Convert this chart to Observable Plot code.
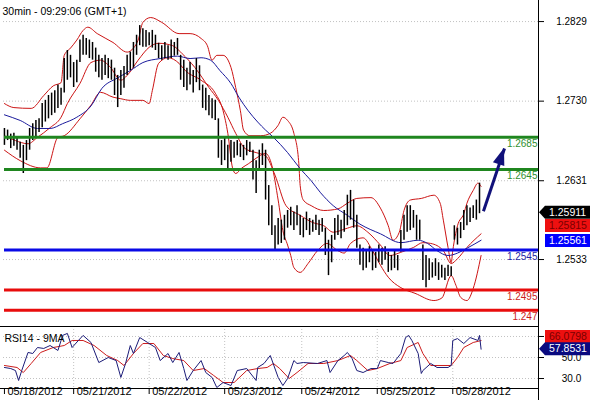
<!DOCTYPE html>
<html><head><meta charset="utf-8">
<script src="https://cdn.jsdelivr.net/npm/d3@7"></script>
<script src="https://cdn.jsdelivr.net/npm/@observablehq/plot@0.6"></script>
<style>
body{margin:0;background:#fff;}
#wrap{position:relative;width:590px;height:400px;overflow:hidden;background:#fff;}
#wrap svg{position:absolute;left:0;overflow:visible;}
</style></head><body><div id="wrap"></div>
<script>
// ---------- data ----------
const title = "30min - 09:29:06 (GMT+1)";
const barStep = 2; // each entry spans two 30-min bars
const barHigh = [1.2696,1.2694,1.2689,1.2690,1.2685,1.2679,1.2675,1.2681,1.2696,1.2702,
1.2706,1.2708,1.2727,1.2731,1.2737,1.2740,1.2743,1.2750,1.2746,1.2783,
1.2793,1.2787,1.2778,1.2781,1.2806,1.2812,1.2808,1.2806,1.2803,1.2796,
1.2787,1.2783,1.2787,1.2783,1.2781,1.2771,1.2762,1.2768,1.2773,1.2787,
1.2791,1.2803,1.2812,1.2824,1.2820,1.2818,1.2815,1.2818,1.2812,1.2802,
1.2799,1.2803,1.2799,1.2806,1.2803,1.2808,1.2787,1.2781,1.2771,1.2778,
1.2768,1.2783,1.2774,1.2750,1.2746,1.2737,1.2733,1.2731,1.2708,1.2681,
1.2684,1.2675,1.2681,1.2679,1.2681,1.2677,1.2675,1.2681,1.2679,1.2669,
1.2656,1.2669,1.2677,1.2669,1.2625,1.2600,1.2575,1.2584,1.2582,1.2588,
1.2594,1.2598,1.2592,1.2600,1.2588,1.2584,1.2592,1.2584,1.2582,1.2588,
1.2582,1.2584,1.2572,1.2557,1.2563,1.2584,1.2588,1.2582,1.2594,1.2613,
1.2619,1.2607,1.2588,1.2551,1.2547,1.2544,1.2549,1.2544,1.2542,1.2551,
1.2547,1.2549,1.2542,1.2538,1.2544,1.2538,1.2569,1.2588,1.2600,1.2600,
1.2594,1.2588,1.2582,1.2551,1.2538,1.2534,1.2529,1.2534,1.2529,1.2526,
1.2522,1.2526,1.2524,1.2575,1.2572,1.2579,1.2594,1.2600,1.2597,1.2600,
1.2607,1.2628];
const barLow = [1.2675,1.2681,1.2671,1.2674,1.2669,1.2659,1.2640,1.2656,1.2669,1.2681,
1.2685,1.2691,1.2697,1.2704,1.2708,1.2712,1.2715,1.2721,1.2725,1.2740,
1.2756,1.2759,1.2747,1.2753,1.2778,1.2787,1.2787,1.2783,1.2781,1.2766,
1.2759,1.2756,1.2762,1.2758,1.2756,1.2737,1.2722,1.2737,1.2746,1.2762,
1.2768,1.2771,1.2787,1.2799,1.2797,1.2797,1.2799,1.2796,1.2793,1.2783,
1.2781,1.2783,1.2781,1.2783,1.2786,1.2787,1.2756,1.2747,1.2743,1.2750,
1.2740,1.2753,1.2743,1.2721,1.2718,1.2712,1.2708,1.2706,1.2659,1.2650,
1.2656,1.2646,1.2654,1.2659,1.2662,1.2660,1.2656,1.2662,1.2666,1.2632,
1.2615,1.2644,1.2650,1.2607,1.2575,1.2563,1.2544,1.2551,1.2553,1.2557,
1.2572,1.2575,1.2569,1.2575,1.2563,1.2560,1.2569,1.2563,1.2567,1.2569,
1.2563,1.2567,1.2538,1.2513,1.2529,1.2557,1.2563,1.2559,1.2567,1.2575,
1.2582,1.2572,1.2547,1.2526,1.2519,1.2522,1.2529,1.2519,1.2522,1.2529,
1.2526,1.2532,1.2517,1.2519,1.2522,1.2519,1.2542,1.2557,1.2567,1.2569,
1.2572,1.2557,1.2557,1.2507,1.2498,1.2507,1.2510,1.2512,1.2507,1.2510,
1.2507,1.2512,1.2512,1.2557,1.2551,1.2559,1.2569,1.2575,1.2579,1.2584,
1.2582,1.2590];

const bbUpper = [[0,1.2727],[6,1.2722],[17,1.2721],[25,1.2737],[31,1.2749],[36,1.2753],[38,1.2787],[42,1.2796],[46,1.2806],[50,1.2818],[53,1.2822],[59,1.2814],[69,1.2803],[78,1.2791],[82,1.2796],[85,1.2806],[88,1.2828],[93,1.2834],[100,1.2828],[111,1.2814],[118,1.2814],[125,1.2808],[129,1.2799],[132,1.2781],[135,1.2787],[139,1.2787],[144,1.2772],[147,1.2747],[150,1.2718],[152,1.2694],[156,1.2687],[163,1.2687],[169,1.2690],[174,1.2700],[177,1.2710],[180,1.2706],[184,1.2690],[187,1.2656],[188,1.2625],[190,1.2607],[195,1.2600],[203,1.2594],[212,1.2596],[218,1.2603],[224,1.2609],[233,1.2610],[239,1.2597],[244,1.2575],[247,1.2557],[251,1.2567],[254,1.2594],[258,1.2607],[265,1.2609],[273,1.2613],[277,1.2603],[279,1.2582],[282,1.2548],[284,1.2529],[285,1.2544],[288,1.2575],[292,1.2590],[294,1.2603],[298,1.2619],[301,1.2628],[303,1.2624]];
const bbMiddle = [[0,1.2687],[7,1.2681],[15,1.2677],[21,1.2685],[29,1.2697],[36,1.2710],[40,1.2727],[48,1.2752],[55,1.2778],[61,1.2781],[67,1.2773],[74,1.2756],[78,1.2762],[85,1.2781],[92,1.2797],[98,1.2802],[107,1.2799],[113,1.2789],[121,1.2772],[130,1.2747],[136,1.2731],[142,1.2710],[147,1.2690],[153,1.2671],[160,1.2666],[166,1.2662],[172,1.2638],[179,1.2600],[188,1.2588],[196,1.2579],[203,1.2575],[209,1.2567],[218,1.2572],[224,1.2575],[231,1.2567],[239,1.2551],[245,1.2538],[252,1.2542],[260,1.2548],[266,1.2554],[271,1.2553],[279,1.2544],[284,1.2528],[288,1.2534],[294,1.2548],[303,1.2565]];
const bbLower = [[0,1.2669],[10,1.2656],[23,1.2647],[27,1.2647],[34,1.2685],[38,1.2687],[48,1.2708],[55,1.2725],[61,1.2741],[69,1.2735],[74,1.2733],[80,1.2731],[88,1.2731],[92,1.2727],[94,1.2743],[98,1.2777],[104,1.2784],[111,1.2777],[115,1.2768],[125,1.2756],[134,1.2740],[139,1.2718],[142,1.2690],[145,1.2647],[147,1.2640],[151,1.2647],[155,1.2652],[160,1.2659],[166,1.2665],[170,1.2650],[174,1.2607],[177,1.2569],[180,1.2551],[182,1.2538],[184,1.2523],[188,1.2517],[193,1.2528],[199,1.2544],[205,1.2553],[212,1.2544],[216,1.2541],[220,1.2553],[228,1.2560],[234,1.2544],[239,1.2526],[244,1.2511],[252,1.2498],[261,1.2491],[273,1.2482],[278,1.2485],[284,1.2513],[287,1.2501],[290,1.2486],[294,1.2482],[298,1.2497],[303,1.2538]];
const maLine = [[0,1.2713],[10,1.2706],[21,1.2696],[29,1.2696],[37,1.2702],[46,1.2710],[55,1.2724],[62,1.2746],[72,1.2759],[80,1.2768],[88,1.2778],[99,1.2783],[110,1.2786],[118,1.2783],[125,1.2784],[131,1.2781],[137,1.2768],[144,1.2752],[149,1.2735],[155,1.2718],[161,1.2704],[166,1.2694],[171,1.2685],[180,1.2666],[188,1.2646],[195,1.2631],[201,1.2616],[209,1.2600],[218,1.2588],[226,1.2577],[239,1.2565],[252,1.2554],[263,1.2557],[269,1.2553],[275,1.2544],[282,1.2538],[288,1.2541],[294,1.2547],[303,1.2557]];

const rsiLine = [[0,40.5],[4,39.5],[7,37.6],[9,28.1],[11,37.6],[15,54.8],[18,53.8],[21,59.5],[25,58.6],[29,61.4],[34,56.7],[37,71],[40,72.9],[43,59.5],[47,66.2],[50,71],[55,64.3],[60,45.2],[66,50],[71,47.1],[74,31],[77,44.3],[80,61.4],[82,53.8],[86,69],[91,64.3],[96,59.5],[99,47.1],[104,53.8],[107,45.2],[111,54.8],[114,39.5],[116,28.1],[120,37.6],[125,47.1],[128,35.7],[132,31],[135,21.4],[139,26.2],[144,23.3],[148,37.6],[154,39.5],[160,28.1],[161,40.5],[165,44.3],[169,51.9],[174,31],[177,23.3],[180,30],[184,47.1],[186,44.3],[190,45.2],[199,44.3],[205,47.1],[207,35.7],[212,47.1],[216,51.9],[218,54.8],[221,49],[224,37.6],[228,35.7],[233,39.5],[237,39.5],[239,47.1],[244,45.2],[247,44.3],[252,53.8],[255,69],[257,71],[259,66.2],[263,53.8],[265,34.8],[266,37.6],[271,44.3],[275,40.5],[282,40.5],[284,42.4],[285,66.2],[288,68],[292,63.3],[296,69],[301,66.2],[302,71],[303,57.9]];
const rsiMA = [[0,42.4],[8,40.5],[12,35.7],[17,44.3],[23,54.8],[31,59.5],[38,61.4],[43,66.2],[50,66.2],[57,61.4],[65,51.9],[72,47.1],[76,42.4],[82,53.8],[88,63.3],[95,63.3],[101,51.9],[107,49],[114,47.1],[120,37.6],[127,39.5],[133,32.9],[139,26.2],[146,26.2],[154,37.6],[161,39.5],[167,40.5],[171,44.3],[175,39.5],[181,30],[186,35.7],[193,44.3],[203,44.3],[212,47.1],[220,51.9],[224,47.1],[231,37.6],[237,39.5],[245,44.3],[252,47.1],[256,59.5],[263,64.3],[266,53.8],[271,42.4],[284,42.4],[288,50],[292,59.5],[298,64.3],[303,66.1]];

const priceTicks = [1.2533, 1.2631, 1.2730, 1.2829];
const rsiTicks = [30, 50, 70];
const dateTicks = [0, 44, 92, 140, 189, 237, 285];
const dateLabels = ["05/18/2012","05/21/2012","05/22/2012","05/23/2012","05/24/2012","05/25/2012","05/28/2012"];

const levelValues = [1.2685, 1.2645, 1.2545, 1.2495, 1.247];
const levelLabels = ["1.2685", "1.2645", "1.2545", "1.2495", "1.247"];
const levelKinds = ["resistance", "resistance", "pivot", "support", "support"];

const arrowTail = [304.5, 1.2593];
const arrowTip = [317.9, 1.2671];

const lastClose = 1.25911, bandValue = 1.25815, maValue = 1.25561;
const rsiMAValue = 66.0798, rsiValue = 57.8531;

// ---------- styling ----------
const FONT = "'Liberation Sans', Arial, sans-serif";
const xDomain = [-0.6, 339.5];
const priceDomain = [1.24497, 1.28552];
const rsiDomain = [20.5, 79.5];
const lineColor = {resistance: "#1f861f", pivot: "#0a0ae6", support: "#e80c0c"};
const textColor = {resistance: "#2f8f2f", pivot: "#2424a4", support: "#cc1c1c"};
const levels = levelValues.map((v, i) => ({v, label: levelLabels[i], kind: levelKinds[i]}));
const bars = barHigh.map((h, i) => ({t: i * barStep, high: h, low: barLow[i]}));
const dotted = {stroke: "#c2c2c2", strokeDasharray: "1,2"};

const main = Plot.plot({
  width: 590, height: 326,
  marginLeft: 3, marginRight: 52, marginTop: 0, marginBottom: 0,
  style: {fontFamily: FONT, fontSize: "10px", background: "transparent", overflow: "visible", color: "#000"},
  x: {domain: xDomain, axis: null},
  y: {domain: priceDomain, axis: "right", ticks: priceTicks, tickSize: 5, tickFormat: () => "", label: null},
  marks: [
    Plot.ruleY(priceTicks, {y: d => d, ...dotted}),
    Plot.line(bbUpper, {x: d => d[0], y: d => d[1], stroke: "#cc1414", strokeWidth: 1, curve: "monotone-x"}),
    Plot.line(bbMiddle, {x: d => d[0], y: d => d[1], stroke: "#cc1414", strokeWidth: 1, curve: "monotone-x"}),
    Plot.line(bbLower, {x: d => d[0], y: d => d[1], stroke: "#cc1414", strokeWidth: 1, curve: "monotone-x"}),
    Plot.line(maLine, {x: d => d[0], y: d => d[1], stroke: "#1a1a9c", strokeWidth: 1, curve: "monotone-x"}),
    Plot.ruleX(bars, {x: "t", y1: "low", y2: "high", stroke: "#000", strokeWidth: 1.5}),
    Plot.ruleY(levels, {y: "v", stroke: d => lineColor[d.kind], strokeWidth: 3, insetLeft: 1}),
    Plot.text(levels, {y: "v", text: "label", fill: d => textColor[d.kind], frameAnchor: "right", textAnchor: "end", dx: -1, dy: 6.5, fontSize: 10}),
    Plot.link([{t1: arrowTail[0], p1: arrowTail[1], t2: arrowTip[0], p2: arrowTip[1]}], {x1: "t1", y1: "p1", x2: "t2", y2: "p2", stroke: "#11117a", strokeWidth: 3}),
    Plot.text(priceTicks, {y: d => d, text: d => d.toFixed(4), frameAnchor: "right", dx: 33, textAnchor: "middle", fill: "#000", fontSize: 10}),
    Plot.ruleX([xDomain[1]], {x: d => d, stroke: "#000"}),
    Plot.text([title], {frameAnchor: "top-left", dx: -1, dy: 7, fill: "#000", fontSize: 10.5})
  ]
});
main.style.top = "0px";

const rsi = Plot.plot({
  width: 590, height: 74,
  marginLeft: 3, marginRight: 52, marginTop: 0, marginBottom: 12,
  style: {fontFamily: FONT, fontSize: "10px", background: "transparent", overflow: "visible", color: "#000"},
  x: {domain: xDomain, axis: "bottom", ticks: dateTicks, tickSize: 6, tickFormat: () => "", label: null},
  y: {domain: rsiDomain, axis: "right", ticks: rsiTicks, tickSize: 5, tickFormat: () => "", label: null},
  marks: [
    Plot.ruleY(rsiTicks, {y: d => d, ...dotted}),
    Plot.ruleX(dateTicks.slice(1), {x: d => d, ...dotted}),
    Plot.line(rsiMA, {x: d => d[0], y: d => d[1], stroke: "#cc1c1c", strokeWidth: 1}),
    Plot.line(rsiLine, {x: d => d[0], y: d => d[1], stroke: "#1c1c78", strokeWidth: 1}),
    Plot.ruleY(rsiDomain, {y: d => d, stroke: "#000", insetLeft: -3}),
    Plot.ruleX([xDomain[1]], {x: d => d, stroke: "#000", insetBottom: -12}),
    Plot.text(rsiTicks, {y: d => d, text: d => d.toFixed(1), frameAnchor: "right", dx: 33, textAnchor: "middle", fill: "#000", fontSize: 10}),
    Plot.text(dateLabels, {x: (d, i) => dateTicks[i], text: d => d, frameAnchor: "bottom", textAnchor: "start", dx: 3, dy: 6, fill: "#000", fontSize: 11}),
    Plot.text(["RSI14 - 9MA"], {frameAnchor: "top-left", dx: 1, dy: 8, fill: "#000", fontSize: 10.5})
  ]
});
rsi.style.top = "326px";

// ---------- value boxes & arrow head (placed with Plot's scales) ----------
function scaleFn(plot, name) {
  const s = plot.scale(name);
  return d3.scaleLinear(s.domain, s.range);
}
function addBoxes(plot, items) {
  const Y = scaleFn(plot, "y");
  const g = d3.select(plot).append("g")
    .attr("font-family", FONT).attr("font-size", 10.5).attr("text-anchor", "start");
  for (const it of items) {
    const cy = Y(it.value) + (it.shift || 0);
    const h = 6.5, x0 = 545, x1 = 590, tip = 539;
    const pts = it.pointer
      ? [[tip, cy], [x0, cy - h], [x1, cy - h], [x1, cy + h], [x0, cy + h]]
      : [[x0, cy - h], [x1, cy - h], [x1, cy + h], [x0, cy + h]];
    g.append("polygon").attr("points", pts.map(p => p.join(",")).join(" ")).attr("fill", it.fill);
    g.append("text").attr("x", 549).attr("y", cy).attr("dy", "0.35em")
      .attr("text-anchor", "start").attr("fill", it.color).text(it.label);
  }
}
addBoxes(main, [
  {value: maValue, label: maValue.toFixed(5), fill: "#0000ff", color: "#fff"},
  {value: bandValue, label: bandValue.toFixed(5), fill: "#ee1010", color: "#7a0000", shift: 5.5},
  {value: lastClose, label: lastClose.toFixed(5), fill: "#000", color: "#fff", pointer: true}
]);
addBoxes(rsi, [
  {value: rsiMAValue, label: rsiMAValue.toFixed(4), fill: "#ee1010", color: "#7a0000", shift: -3.5},
  {value: rsiValue, label: rsiValue.toFixed(4), fill: "#0a0a80", color: "#fff", pointer: true}
]);
(function arrowHead() {
  const X = scaleFn(main, "x"), Y = scaleFn(main, "y");
  const ax = X(arrowTail[0]), ay = Y(arrowTail[1]);
  const bx = X(arrowTip[0]), by = Y(arrowTip[1]);
  const len = Math.hypot(bx - ax, by - ay), ux = (bx - ax) / len, uy = (by - ay) / len;
  const hl = 17, hw = 6;
  const cx = bx - ux * hl, cy = by - uy * hl;
  const pts = [[bx, by], [cx - uy * hw, cy + ux * hw], [cx + uy * hw, cy - ux * hw]];
  d3.select(main).append("polygon").attr("points", pts.map(p => p.join(",")).join(" ")).attr("fill", "#11117a");
})();

const wrap = document.getElementById("wrap");
wrap.appendChild(main);
wrap.appendChild(rsi);
</script>
</body></html>
